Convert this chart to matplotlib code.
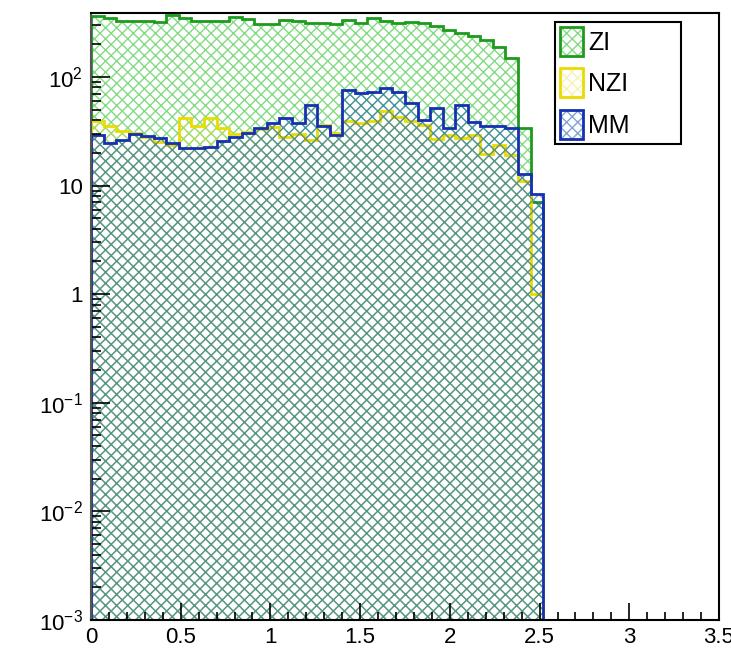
import numpy as np
import matplotlib
matplotlib.use('Agg')
from matplotlib import pyplot as plt
from matplotlib import ticker
import matplotlib.patches as mpatches

# histogram binning: 50 bins of 0.07 on [0, 3.5]
x_min, x_max = 0.0, 3.5
n_bins = 50
y_min, y_max = 1e-3, 388

labels = ['ZI', 'NZI', 'MM']

# contents of the non-empty bins (all bins after these are empty)
zi = [364, 349, 328, 328, 325, 321, 375, 349, 330, 328, 325, 360, 340, 310, 307,
      335, 328, 314, 312, 307, 335, 314, 349, 328, 314, 318, 314, 295, 271, 254,
      238, 219, 190, 149, 34, 7.1]
nzi = [39, 35, 32, 30.5, 28, 25, 23.5, 42, 35, 42, 34, 30, 31, 33, 34.7,
       28, 30, 26.5, 36, 30.5, 39, 38, 39, 48.6, 43, 39, 36, 27, 29, 27.5,
       29, 19.5, 23.7, 19.2, 11.1, 1.0]
mm = [29.2, 24.7, 26, 29.8, 28.6, 27.5, 24.7, 22.3, 22.3, 22.5, 25.8, 28, 30.5, 34, 38,
      42, 38, 55, 35.4, 29.2, 76, 71, 72, 79, 73, 58, 40, 52, 34, 55,
      38.5, 35, 35.4, 34, 12.9, 8.4]

line_colors = ['#1e9a1e', '#e8dc00', '#1530b0']
hatch_colors = [(0.40, 0.82, 0.40, 0.8), (0.92, 0.86, 0.1, 0.35), (0.10, 0.35, 0.70, 0.55)]

plt.rcParams['font.family'] = ['Liberation Sans', 'DejaVu Sans']
plt.rcParams['mathtext.default'] = 'regular'
plt.rcParams['hatch.linewidth'] = 1.0

edges = np.linspace(x_min, x_max, n_bins + 1)

fig = plt.figure(figsize=(7.31, 6.5), dpi=100)
ax = fig.add_axes([91 / 731, 30 / 650, 628 / 731, 607 / 650])
ax.set_yscale('log')


def draw_hist(vals, line_col, hatch_col):
    v = np.zeros(n_bins)
    v[:len(vals)] = vals
    v = np.where(v > 0, v, y_min)
    ax.stairs(v, edges, baseline=y_min, fill=True, facecolor='none',
              edgecolor=hatch_col, hatch='xxx', linewidth=0)
    ax.stairs(v, edges, baseline=y_min, color=line_col, linewidth=2)


for vals, lc, hc in zip([zi, nzi, mm], line_colors, hatch_colors):
    draw_hist(vals, lc, hc)

ax.set_xlim(x_min, x_max)
ax.set_ylim(y_min, y_max)

ax.xaxis.set_major_locator(ticker.MultipleLocator(0.5))
ax.xaxis.set_minor_locator(ticker.MultipleLocator(0.1))
ax.xaxis.set_major_formatter(ticker.FuncFormatter(lambda v, p: '%g' % v))
ax.yaxis.set_major_locator(ticker.LogLocator(base=10, numticks=20))
ax.yaxis.set_minor_locator(ticker.LogLocator(base=10, subs=np.arange(2, 10), numticks=20))


def ylab(v, p):
    e = int(round(np.log10(v)))
    if e == 0:
        return '1'
    if e == 1:
        return '10'
    return r'$\mathregular{10^{%d}}$' % e


ax.yaxis.set_major_formatter(ticker.FuncFormatter(ylab))
ax.yaxis.set_minor_formatter(ticker.NullFormatter())

ax.tick_params(which='both', direction='in', top=False, right=False, width=1.2, labelsize=16)
ax.tick_params(axis='x', which='major', length=12, pad=5)
ax.tick_params(axis='x', which='minor', length=6)
ax.tick_params(axis='y', which='major', length=14, pad=6)
ax.tick_params(axis='y', which='minor', length=7)
for s in ax.spines.values():
    s.set_linewidth(1.5)
ax.spines['left'].set_color('#555555')

handles = []
for lc, hc in zip(line_colors, hatch_colors):
    h1 = mpatches.Patch(facecolor='none', edgecolor=hc, hatch='xxx', linewidth=0)
    h2 = mpatches.Patch(facecolor='none', edgecolor=lc, linewidth=2)
    handles.append((h1, h2))

leg = ax.legend(handles, labels, loc='upper left', bbox_to_anchor=(0.739, 0.75, 0.2, 0.235),
                mode='expand', borderaxespad=0, fancybox=False, edgecolor='black',
                framealpha=1, fontsize=18, handlelength=0.92, handleheight=1.4,
                handletextpad=0.2, labelspacing=0.5, borderpad=0.2)
leg.get_frame().set_linewidth(1.5)

fig.savefig('out.png', dpi=100)
